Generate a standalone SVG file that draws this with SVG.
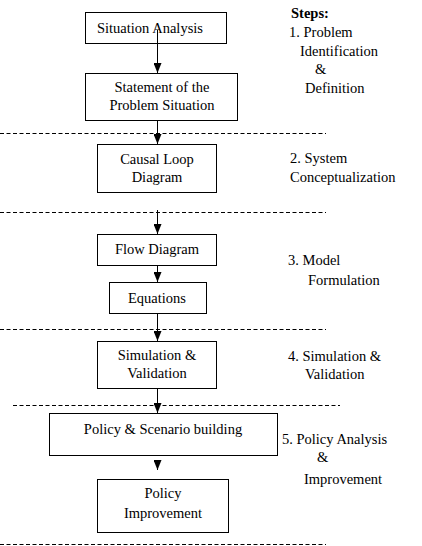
<svg xmlns="http://www.w3.org/2000/svg" width="422" height="546" viewBox="0 0 422 546" font-family="Liberation Serif, serif" font-size="14.5">
<style>
.c{text-anchor:middle}
.b{font-weight:bold}
rect{fill:#fff;stroke:#000;stroke-width:1}
.dash{stroke:#000;stroke-width:1;stroke-dasharray:4 2.5;fill:none}
.arr{stroke:#000;stroke-width:1;fill:none;marker-end:url(#ah)}
</style>
<defs>
<marker id="ah" viewBox="0 -4 10 8" refX="10" refY="0" markerWidth="10" markerHeight="8" markerUnits="userSpaceOnUse" orient="auto">
<path d="M0,-4 L10,0 L0,4 z" fill="#000"/>
</marker>
</defs>
<rect width="422" height="546" style="fill:#fff;stroke:none"/>
<g id="separators">
<line class="dash" x1="0" y1="133.5" x2="326" y2="133.5"/>
<line class="dash" x1="0" y1="212.5" x2="326" y2="212.5"/>
<line class="dash" x1="0" y1="329.5" x2="326" y2="329.5"/>
<line class="dash" x1="13" y1="405.5" x2="340" y2="405.5"/>
<line class="dash" x1="0" y1="544.5" x2="326" y2="544.5"/>
</g>
<g id="n1"><rect x="85.5" y="12.5" width="141" height="31"/><text x="97" y="33">Situation Analysis</text></g>
<g id="n2"><rect x="85.5" y="73.5" width="152" height="47"/><text class="c" x="162" y="92">Statement of the</text><text class="c" x="162" y="110">Problem Situation</text></g>
<g id="n3"><rect x="97.5" y="144.5" width="119" height="48"/><text class="c" x="157" y="164">Causal Loop</text><text class="c" x="157" y="182">Diagram</text></g>
<g id="n4"><rect x="97.5" y="234.5" width="119" height="31"/><text class="c" x="157" y="254">Flow Diagram</text></g>
<g id="n5"><rect x="109.5" y="282.5" width="97" height="31"/><text class="c" x="157" y="303">Equations</text></g>
<g id="n6"><rect x="97.5" y="341.5" width="119" height="47"/><text class="c" x="157" y="360">Simulation &amp;</text><text class="c" x="157" y="378">Validation</text></g>
<g id="n7"><rect x="49.5" y="413.5" width="228" height="42"/><text class="c" x="163" y="434">Policy &amp; Scenario building</text></g>
<g id="n8"><rect x="97.5" y="479.5" width="131" height="53"/><text class="c" x="163" y="498">Policy</text><text class="c" x="163" y="518">Improvement</text></g>
<g id="connectors">
<line class="arr" x1="157.5" y1="30" x2="157.5" y2="73"/>
<line class="arr" x1="157.5" y1="121" x2="157.5" y2="144"/>
<line class="arr" x1="157.5" y1="210" x2="157.5" y2="234"/>
<line class="arr" x1="157.5" y1="266" x2="157.5" y2="282"/>
<line class="arr" x1="157.5" y1="314" x2="157.5" y2="341"/>
<line class="arr" x1="157.5" y1="389" x2="157.5" y2="413"/>
<line class="arr" x1="157.5" y1="461" x2="157.5" y2="470"/>
</g>
<g id="steps">
<text class="b" x="291" y="18">Steps:</text>
<text x="289" y="37">1. Problem</text>
<text x="300" y="56">Identification</text>
<text x="315" y="74">&amp;</text>
<text x="305" y="93">Definition</text>
<text x="290" y="163">2. System</text>
<text x="290" y="182">Conceptualization</text>
<text x="288" y="265">3. Model</text>
<text x="308" y="285">Formulation</text>
<text x="288" y="361">4. Simulation &amp;</text>
<text x="305" y="379">Validation</text>
<text x="282" y="444">5. Policy Analysis</text>
<text x="317" y="462">&amp;</text>
<text x="304" y="484">Improvement</text>
</g>
</svg>
